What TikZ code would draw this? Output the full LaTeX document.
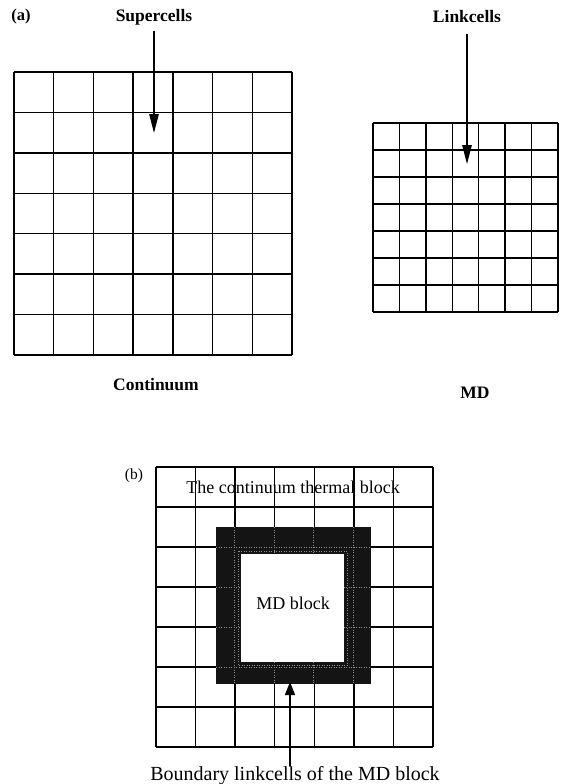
\documentclass[tikz,border=0pt]{standalone}
\usepackage{fontspec}
\setmainfont{Liberation Serif}
\usetikzlibrary{arrows.meta}
\begin{document}
\begin{tikzpicture}[x=1pt,y=-1pt,
  gridline/.style={line width=1.5pt,black},
  lbl/.style={font=\fontsize{17.5}{19}\selectfont\bfseries,inner sep=0pt},
  txt/.style={font=\fontsize{18}{20}\selectfont,inner sep=0pt},
  pointer/.style={line width=1.3pt,-{Triangle[length=19pt,width=9.5pt]}},
  shortpointer/.style={line width=1.3pt,-{Triangle[length=13pt,width=10pt]}}]
\useasboundingbox[fill=white] (0,0) rectangle (562,784);
% (a) continuum grid: 14..292 x 72..355
\foreach \i in {0,...,7} {
  \draw[gridline] ({14+\i*39.714},72) -- ({14+\i*39.714},355);
  \draw[gridline] (14,{72+\i*40.43}) -- (292,{72+\i*40.43});
}
% MD grid: 373..558 x 123..312
\foreach \i in {0,...,7} {
  \draw[gridline] ({373+\i*26.43},123) -- ({373+\i*26.43},312);
  \draw[gridline] (373,{123+\i*27}) -- (558,{123+\i*27});
}
\node[font=\fontsize{16.5}{18}\selectfont\bfseries,inner sep=0pt] (a) at (21,17) {(a)};
\node[lbl] (sup) at (154,17) {Supercells};
\coordinate (supt) at (154,133);
\draw[pointer] (154,31) -- (supt);
\node[lbl] (lnk) at (467,17) {Linkcells};
\coordinate (lnkt) at (467,164);
\draw[pointer] (467,34) -- (lnkt);
\node[lbl] (cont) at (156,385) {Continuum};
\node[lbl] (md) at (475,393) {MD};
% (b) grid: 156..433 x 467..747
\foreach \i in {0,...,7} {
  \draw[gridline] ({156+\i*39.57},467) -- ({156+\i*39.57},747);
  \draw[gridline] (156,{467+\i*40}) -- (433,{467+\i*40});
}
\fill[black!92] (216,527) rectangle (371,684);
\begin{scope}
\clip (216,527) rectangle (371,684);
\draw[white!55!black,line width=0.5pt,dotted] (234,527) -- (234,684) (274,527) -- (274,684) (313,527) -- (313,684) (353,527) -- (353,684)
  (216,547) -- (371,547) (216,587) -- (371,587) (216,627) -- (371,627) (216,667) -- (371,667)
  (238,551) rectangle (347,665);
\end{scope}
\fill[white] (241,554) rectangle (344,662);
\node[font=\fontsize{15.5}{17}\selectfont,inner sep=0pt] (b) at (134,476) {(b)};
\node[txt] (thermal) at (293,487) {The continuum thermal block};
\node[txt] (mdb) at (293,603) {MD block};
\node[font=\fontsize{20}{22}\selectfont,inner sep=0pt] (bnd) at (295,776) {Boundary linkcells of the MD block};
\coordinate (bndt) at (290,682);
\draw[shortpointer] (290,766) -- (bndt);
\end{tikzpicture}
\end{document}
